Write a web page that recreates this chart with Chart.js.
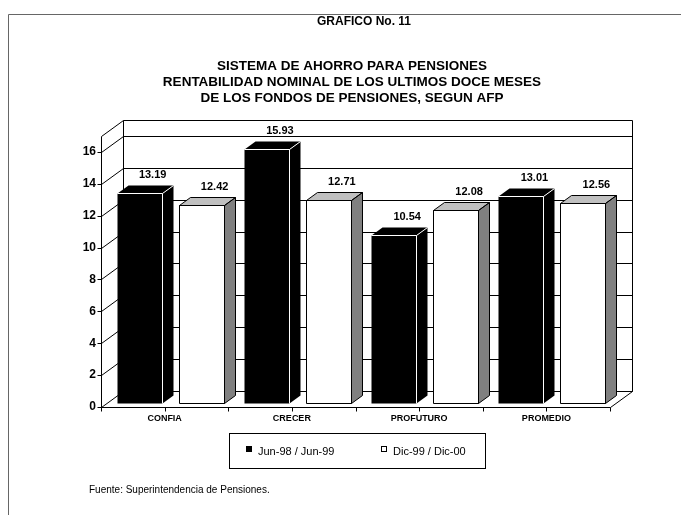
<!DOCTYPE html>
<html>
<head>
<meta charset="utf-8">
<script src="https://cdn.jsdelivr.net/npm/chart.js@4.4.0/dist/chart.umd.min.js"></script>
<style>
  html, body { margin: 0; padding: 0; background: #fff; }
  #wrap { position: relative; width: 681px; height: 515px; }
</style>
</head>
<body>
<div id="wrap"><canvas id="chart" width="681" height="515"></canvas></div>
<script>
const categories = ["CONFIA", "CRECER", "PROFUTURO", "PROMEDIO"];
const seriesNames = ["Jun-98 / Jun-99", "Dic-99 / Dic-00"];
const jun98Jun99 = [13.19, 15.93, 10.54, 13.01];
const dic99Dic00 = [12.42, 12.71, 12.08, 12.56];
const yTicks = [0, 2, 4, 6, 8, 10, 12, 14, 16];
const chartNumber = "GRAFICO No. 11";
const titleLines = [
  "SISTEMA DE AHORRO PARA PENSIONES",
  "RENTABILIDAD NOMINAL DE LOS ULTIMOS DOCE MESES",
  "DE LOS FONDOS DE PENSIONES, SEGUN AFP"
];
const sourceNote = "Fuente: Superintendencia de Pensiones.";

const FONT = "'Liberation Sans', Arial, sans-serif";
// depth of the 3d box (back wall offset) and of the bars
const WALL_DX = 22, WALL_DY = -16;
const BAR_DX = 11, BAR_DY = -8;

const barStyles = [
  { front: "#000", top: "#000", side: "#000", line: "#fff" },
  { front: "#fff", top: "#c0c0c0", side: "#808080", line: "#000" }
];

const px = v => Math.round(v) + 0.5;

function poly(ctx, pts) {
  ctx.beginPath();
  ctx.moveTo(pts[0][0], pts[0][1]);
  for (let i = 1; i < pts.length; i++) ctx.lineTo(pts[i][0], pts[i][1]);
  ctx.closePath();
}

const box3d = {
  id: "box3d",
  beforeDatasetsDraw(chart) {
    const ctx = chart.ctx;
    const { left, right, top, bottom } = chart.chartArea;
    const y = chart.scales.y;
    const L = px(left), R = px(right), T = px(top), B = px(bottom);
    ctx.save();
    ctx.strokeStyle = "#000";
    ctx.lineWidth = 1;
    ctx.beginPath();
    // back wall
    ctx.rect(L + WALL_DX, T + WALL_DY, R - L, B - T);
    // left wall
    ctx.moveTo(L, B); ctx.lineTo(L, T); ctx.lineTo(L + WALL_DX, T + WALL_DY);
    // floor
    ctx.moveTo(L, B); ctx.lineTo(R, B); ctx.lineTo(R + WALL_DX, B + WALL_DY);
    // grid lines on left and back walls
    yTicks.forEach(v => {
      const py = px(y.getPixelForValue(v));
      ctx.moveTo(L - 4, py);
      ctx.lineTo(L, py);
      ctx.lineTo(L + WALL_DX, py + WALL_DY);
      ctx.lineTo(R + WALL_DX, py + WALL_DY);
    });
    // category tick marks (centres and boundaries)
    const n = categories.length * 2;
    for (let i = 0; i <= n; i++) {
      const xx = px(left + (right - left) * i / n);
      ctx.moveTo(xx, B);
      ctx.lineTo(xx, B + 4);
    }
    ctx.stroke();
    ctx.restore();
  },
  afterDatasetsDraw(chart) {
    const ctx = chart.ctx;
    ctx.save();
    ctx.lineWidth = 1;
    chart.data.datasets.forEach((ds, di) => {
      const st = barStyles[di];
      chart.getDatasetMeta(di).data.forEach((el, i) => {
        const x0 = px(el.x - el.width / 2 + WALL_DX / 4);
        const x1 = px(el.x + el.width / 2 + WALL_DX / 4);
        const yt = px(el.y + WALL_DY / 4);
        const yb = px(el.base + WALL_DY / 4);
        const top = [[x0, yt], [x0 + BAR_DX, yt + BAR_DY], [x1 + BAR_DX, yt + BAR_DY], [x1, yt]];
        const side = [[x1, yt], [x1 + BAR_DX, yt + BAR_DY], [x1 + BAR_DX, yb + BAR_DY], [x1, yb]];
        const front = [[x0, yt], [x1, yt], [x1, yb], [x0, yb]];
        ctx.fillStyle = st.front; poly(ctx, front); ctx.fill();
        ctx.fillStyle = st.top; poly(ctx, top); ctx.fill();
        ctx.fillStyle = st.side; poly(ctx, side); ctx.fill();
        ctx.strokeStyle = st.line;
        if (di === 0) {
          ctx.beginPath();
          ctx.moveTo(x0, yt); ctx.lineTo(x1, yt); ctx.lineTo(x1, yb);
          ctx.moveTo(x1, yt); ctx.lineTo(x1 + BAR_DX, yt + BAR_DY);
          ctx.stroke();
        } else {
          [front, top, side].forEach(f => { poly(ctx, f); ctx.stroke(); });
        }
        // value label
        ctx.fillStyle = "#000";
        ctx.font = "bold 11px " + FONT;
        ctx.textAlign = "center";
        ctx.textBaseline = "middle";
        ctx.fillText(ds.data[i].toFixed(2), el.x + 19, el.y - 22);
      });
    });
    ctx.restore();
  },
  afterDraw(chart) {
    const ctx = chart.ctx;
    ctx.save();
    // outer frame
    ctx.strokeStyle = "#666";
    ctx.lineWidth = 1;
    ctx.beginPath();
    ctx.moveTo(681, 14.5); ctx.lineTo(8.5, 14.5); ctx.lineTo(8.5, 515);
    ctx.stroke();
    // titles
    ctx.fillStyle = "#000";
    ctx.textAlign = "center";
    ctx.textBaseline = "middle";
    ctx.font = "bold 12px " + FONT;
    ctx.fillText(chartNumber, 364, 22);
    ctx.font = "bold 13.5px " + FONT;
    titleLines.forEach((t, i) => ctx.fillText(t, 352, 66 + i * 16));
    // legend
    ctx.strokeStyle = "#000";
    ctx.strokeRect(229.5, 433.5, 256, 35);
    ctx.font = "11px " + FONT;
    ctx.textAlign = "left";
    const lx = [246, 381];
    chart.data.datasets.forEach((ds, di) => {
      ctx.fillStyle = barStyles[di].front;
      ctx.fillRect(lx[di], 446, 6, 6);
      ctx.strokeRect(lx[di] + 0.5, 446.5, 5, 5);
      ctx.fillStyle = "#000";
      ctx.fillText(ds.label, lx[di] + 12, 452);
    });
    // source
    ctx.font = "10px " + FONT;
    ctx.fillText(sourceNote, 89, 490);
    ctx.restore();
  }
};

new Chart(document.getElementById("chart"), {
  type: "bar",
  data: {
    labels: categories,
    datasets: [
      { label: seriesNames[0], data: jun98Jun99, backgroundColor: "rgba(0,0,0,0)", borderWidth: 0 },
      { label: seriesNames[1], data: dic99Dic00, backgroundColor: "rgba(0,0,0,0)", borderWidth: 0 }
    ]
  },
  options: {
    responsive: false,
    animation: false,
    devicePixelRatio: 1,
    categoryPercentage: 0.974,
    barPercentage: 0.726,
    layout: { padding: { left: 0, right: 71, top: 136, bottom: 88 } },
    plugins: {
      legend: { display: false },
      title: { display: false },
      tooltip: { enabled: false }
    },
    scales: {
      x: {
        grid: { display: false, drawTicks: false },
        border: { display: false },
        ticks: {
          color: "#000",
          font: { family: FONT, size: 9, weight: "bold" },
          padding: 6,
          maxRotation: 0,
          autoSkip: false
        },
        afterFit: s => { s.height = 20; }
      },
      y: {
        min: 0,
        max: 17,
        bounds: "data",
        grid: { display: false, drawTicks: false },
        border: { display: false },
        ticks: {
          color: "#000",
          font: { family: FONT, size: 12, weight: "bold" },
          padding: 5
        },
        afterBuildTicks: s => { s.ticks = yTicks.map(v => ({ value: v })); },
        afterFit: s => { s.width = 101; }
      }
    }
  },
  plugins: [box3d]
});
</script>
</body>
</html>
